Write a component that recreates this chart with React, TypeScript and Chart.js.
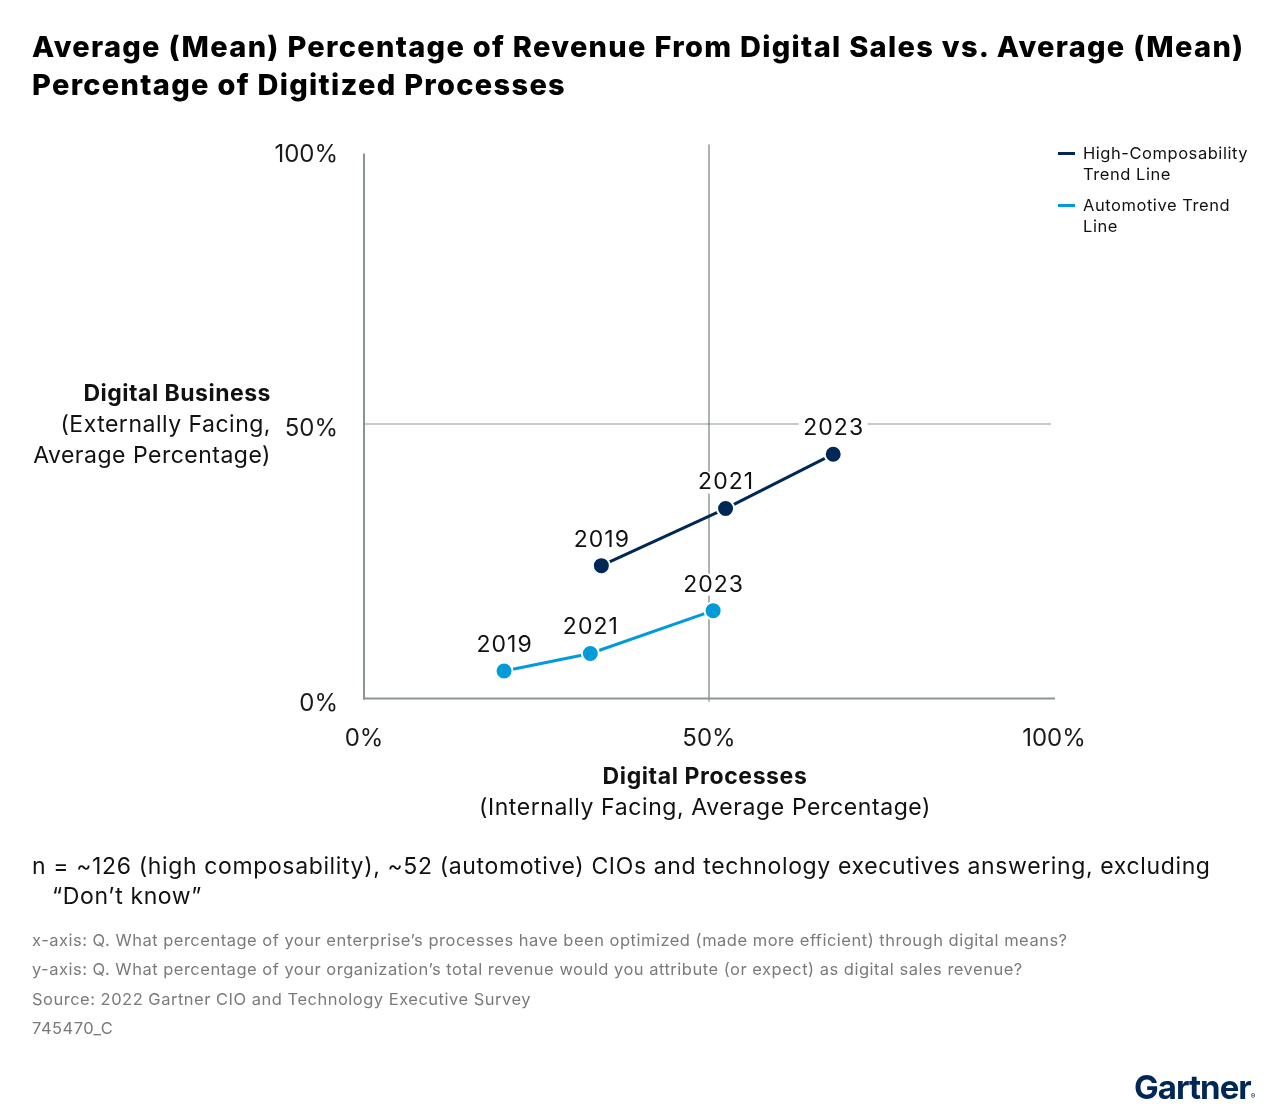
import { useEffect, useRef } from "react";
import { Chart, registerables } from "chart.js";

Chart.register(...registerables);

// Survey year attached to each point, in drawing order
const YEARS = ["2019", "2021", "2023"];

// High-composability organisations: % digitized processes (x) vs % digital revenue (y)
const HIGH_COMP_PROCESSES = [34.4, 52.4, 68.0];
const HIGH_COMP_REVENUE = [24.2, 34.6, 44.5];

// Automotive organisations
const AUTO_PROCESSES = [20.3, 32.8, 50.6];
const AUTO_REVENUE = [5.0, 8.2, 16.0];

const AXIS_TICKS = [0, 50, 100];
const SERIES_NAMES = ["High-Composability Trend Line", "Automotive Trend Line"];

const NAVY = "#002856";
const SKY = "#009bd8";
const BODY_FONT = "Inter, 'Noto Sans', sans-serif";
const LABEL_FONT = `23px ${BODY_FONT}`;
const LABEL_LIFT = 26;

const toPoints = (xs: number[], ys: number[]) => xs.map((x, i) => ({ x, y: ys[i] }));

// Walk every point with the year label that belongs to it
const eachLabel = (chart: any, fn: (text: string, x: number, y: number) => void) => {
  chart.data.datasets.forEach((_: any, di: number) => {
    chart.getDatasetMeta(di).data.forEach((pt: any, i: number) => fn(YEARS[i], pt.x, pt.y - LABEL_LIFT));
  });
};

// Axis lines, the 50% quadrant dividers, and white backings for the year labels
const quadrantPlugin = {
  id: "quadrants",
  beforeDatasetsDraw(chart: any) {
    const { ctx } = chart;
    const { x, y } = chart.scales;
    const x0 = x.getPixelForValue(0);
    const x50 = x.getPixelForValue(50);
    const x100 = x.getPixelForValue(100);
    const y0 = y.getPixelForValue(0);
    const y50 = y.getPixelForValue(50);
    const y100 = y.getPixelForValue(100);
    const seg = (ax: number, ay: number, bx: number, by: number) => {
      ctx.beginPath();
      ctx.moveTo(ax, ay);
      ctx.lineTo(bx, by);
      ctx.stroke();
    };
    ctx.save();
    ctx.strokeStyle = "#b4b9b9";
    ctx.lineWidth = 1.5;
    seg(x0, y50, x100 - 3, y50);
    ctx.strokeStyle = "#5a6664";
    ctx.lineWidth = 1;
    seg(x50, y100 - 5, x50, y0 + 3);
    ctx.strokeStyle = "#8c9393";
    ctx.lineWidth = 2;
    seg(x0, y100 + 4, x0, y0 + 1);
    seg(x0 - 1, y0, x100 + 1, y0);

    ctx.font = LABEL_FONT;
    ctx.letterSpacing = "1px";
    ctx.fillStyle = "#ffffff";
    eachLabel(chart, (text, cx, cy) => {
      const w = ctx.measureText(text).width;
      ctx.fillRect(cx - w / 2 - 4, cy - 11, w + 8, 22);
    });
    ctx.restore();
  },
};

// Year labels above each point
const yearLabelPlugin = {
  id: "yearLabels",
  afterDatasetsDraw(chart: any) {
    const { ctx } = chart;
    ctx.save();
    ctx.font = LABEL_FONT;
    ctx.letterSpacing = "1px";
    ctx.textAlign = "center";
    ctx.textBaseline = "middle";
    ctx.fillStyle = "#111111";
    eachLabel(chart, (text, cx, cy) => ctx.fillText(text, cx + 0.5, cy));
    ctx.restore();
  },
};

function ScatterTrend() {
  const ref = useRef<HTMLCanvasElement | null>(null);

  useEffect(() => {
    if (!ref.current) return;
    const tickFont = { family: BODY_FONT, size: 24 };
    const chart = new Chart(ref.current, {
      type: "scatter",
      data: {
        datasets: [
          {
            label: SERIES_NAMES[0],
            data: toPoints(HIGH_COMP_PROCESSES, HIGH_COMP_REVENUE),
            showLine: true,
            borderColor: NAVY,
            backgroundColor: NAVY,
            borderWidth: 3,
            pointRadius: 8.5,
            pointBorderColor: "#ffffff",
            pointBorderWidth: 2,
            pointBackgroundColor: NAVY,
            clip: false,
          },
          {
            label: SERIES_NAMES[1],
            data: toPoints(AUTO_PROCESSES, AUTO_REVENUE),
            showLine: true,
            borderColor: SKY,
            backgroundColor: SKY,
            borderWidth: 3,
            pointRadius: 8.5,
            pointBorderColor: "#ffffff",
            pointBorderWidth: 2,
            pointBackgroundColor: SKY,
            clip: false,
          },
        ],
      },
      options: {
        responsive: false,
        animation: false,
        events: [],
        layout: { padding: { left: 264, right: 226, top: 149.5, bottom: 356.5 } },
        plugins: { legend: { display: false }, tooltip: { enabled: false } },
        scales: {
          x: {
            type: "linear",
            min: 0,
            max: 100,
            grid: { display: false, drawTicks: false },
            border: { display: false },
            afterBuildTicks: (s: any) => {
              s.ticks = AXIS_TICKS.map((value) => ({ value }));
            },
            afterFit: (s: any) => {
              s.height = 60;
            },
            ticks: {
              font: tickFont,
              color: "#1a1a1a",
              padding: 26,
              maxRotation: 0,
              autoSkip: false,
              callback: (v: any) => `${v}%`,
            },
          },
          y: {
            type: "linear",
            min: 0,
            max: 100,
            grid: { display: false, drawTicks: false },
            border: { display: false },
            afterBuildTicks: (s: any) => {
              s.ticks = AXIS_TICKS.map((value) => ({ value }));
            },
            afterFit: (s: any) => {
              s.width = 100;
            },
            ticks: {
              font: tickFont,
              color: "#1a1a1a",
              padding: 26,
              labelOffset: 5,
              autoSkip: false,
              callback: (v: any) => `${v}%`,
            },
          },
        },
      },
      plugins: [quadrantPlugin, yearLabelPlugin],
    } as any);
    return () => chart.destroy();
  }, []);

  return (
    <canvas
      ref={ref}
      width={1280}
      height={1115}
      style={{ position: "absolute", left: 0, top: 0, width: 1280, height: 1115 }}
    />
  );
}

export default function App() {
  const abs = (extra: any) => ({ position: "absolute" as const, ...extra });
  return (
    <div
      style={{
        position: "absolute",
        left: 0,
        top: 0,
        width: 1280,
        height: 1115,
        background: "#ffffff",
        overflow: "hidden",
        fontFamily: BODY_FONT,
        color: "#111111",
      }}
    >
      <ScatterTrend />

      <div
        style={abs({
          left: 32,
          top: 28,
          width: 1248,
          whiteSpace: "nowrap",
          fontWeight: 800,
          fontSize: 29,
          lineHeight: "38px",
          letterSpacing: 1.3,
          color: "#000000",
        })}
      >
        Average (Mean) Percentage of Revenue From Digital Sales vs. Average (Mean)
        <br />
        Percentage of Digitized Processes
      </div>

      {/* Legend */}
      <div style={abs({ left: 1058, top: 143, width: 210, fontSize: 16.5, lineHeight: "21px", letterSpacing: 0.55 })}>
        {[NAVY, SKY].map((c, i) => (
          <div key={i} style={{ position: "relative", paddingLeft: 25, marginBottom: 10, width: 175 }}>
            <span
              style={{
                position: "absolute",
                left: 0,
                top: 9,
                width: 17,
                height: 3,
                background: c,
              }}
            />
            {SERIES_NAMES[i]}
          </div>
        ))}
      </div>

      {/* Y axis title */}
      <div
        style={abs({
          left: 0,
          top: 378,
          width: 271,
          textAlign: "right",
          fontSize: 23,
          lineHeight: "31px",
          letterSpacing: 0.5,
        })}
      >
        <div style={{ fontWeight: 700 }}>Digital Business</div>
        <div>(Externally Facing,</div>
        <div>Average Percentage)</div>
      </div>

      {/* X axis title */}
      <div
        style={abs({
          left: 405,
          top: 761,
          width: 600,
          textAlign: "center",
          fontSize: 23,
          lineHeight: "31px",
          letterSpacing: 0.6,
        })}
      >
        <div style={{ fontWeight: 700 }}>Digital Processes</div>
        <div>(Internally Facing, Average Percentage)</div>
      </div>

      {/* Notes */}
      <div
        style={abs({
          left: 32,
          top: 851,
          width: 1240,
          whiteSpace: "nowrap",
          fontSize: 23,
          lineHeight: "30px",
          letterSpacing: 0.63,
        })}
      >
        n = ~126 (high composability), ~52 (automotive) CIOs and technology executives answering, excluding
        <br />
        <span style={{ paddingLeft: 20 }}>“Don’t know”</span>
      </div>
      <div
        style={abs({
          left: 32,
          top: 926,
          width: 1240,
          whiteSpace: "nowrap",
          fontSize: 16.5,
          lineHeight: "29.3px",
          letterSpacing: 0.5,
          color: "#7a7a7a",
        })}
      >
        <div>x-axis: Q. What percentage of your enterprise’s processes have been optimized (made more efficient) through digital means?</div>
        <div>y-axis: Q. What percentage of your organization’s total revenue would you attribute (or expect) as digital sales revenue?</div>
        <div>Source: 2022 Gartner CIO and Technology Executive Survey</div>
        <div>745470_C</div>
      </div>

      {/* Wordmark */}
      <div
        style={abs({
          left: 1134,
          top: 1066,
          fontWeight: 700,
          fontSize: 33,
          lineHeight: "42px",
          color: NAVY,
          letterSpacing: -1,
        })}
      >
        Gartner<span style={{ fontSize: 7, letterSpacing: 0 }}>®</span>
      </div>
    </div>
  );
}
